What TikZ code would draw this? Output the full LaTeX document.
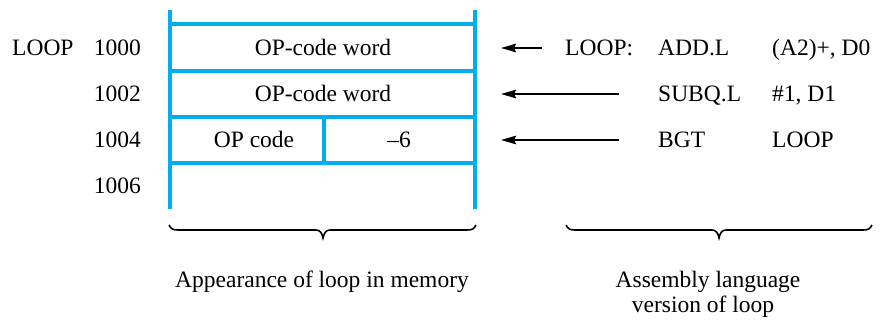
\documentclass[tikz,border=0pt]{standalone}
\usepackage{fontspec}
\setmainfont{Liberation Serif}
\usetikzlibrary{arrows.meta}
\definecolor{memblue}{RGB}{0,174,239}
\begin{document}
\begin{tikzpicture}[x=1pt,y=-1pt,
  txt/.style={inner sep=0pt,font=\fontsize{23.5}{25}\selectfont},
  memline/.style={draw=memblue,line width=3.6pt},
  ptr/.style={draw=black,line width=1.8pt,-{Stealth[length=15pt,width=8.5pt,inset=2pt]}},
  bracepath/.style={draw=black,line width=1.6pt,line join=miter}]
\useasboundingbox (0,0) rectangle (886,323);
% memory frame
\coordinate (tl) at (170,10);
\coordinate (bl) at (170,209);
\coordinate (tr) at (475,10);
\coordinate (br) at (475,209);
\draw[memline] (tl) -- (bl);
\draw[memline] (tr) -- (br);
\foreach \y/\n in {24/h0,71/h1,117/h2,163/h3}{
  \coordinate (\n l) at (170,\y);
  \coordinate (\n r) at (475,\y);
  \draw[memline,line cap=butt] (\n l) -- (\n r);
}
\coordinate (dtop) at (324,117);
\coordinate (dbot) at (324,163);
\draw[memline] (dtop) -- (dbot);
% memory contents
\node[txt,anchor=base] (w1) at (323,56) {OP-code word};
\node[txt,anchor=base] (w2) at (323,102) {OP-code word};
\node[txt,anchor=base] (w3a) at (254,148) {OP code};
\node[txt,anchor=base] (w3b) at (399,148) {–6};
% addresses
\node[txt,anchor=base west] (lbl) at (12,56) {LOOP};
\node[txt,anchor=base east] (a0) at (141,56) {1000};
\node[txt,anchor=base east] (a2) at (141,102) {1002};
\node[txt,anchor=base east] (a4) at (141,148) {1004};
\node[txt,anchor=base east] (a6) at (141,194) {1006};
% assembly
\node[txt,anchor=base west] (l1) at (565,56) {LOOP:};
\node[txt,anchor=base west] (op1) at (658,56) {ADD.L};
\node[txt,anchor=base west] (ar1) at (772,56) {(A2)+, D0};
\node[txt,anchor=base west] (op2) at (658,102) {SUBQ.L};
\node[txt,anchor=base west] (ar2) at (772,102) {\#1, D1};
\node[txt,anchor=base west] (op3) at (658,148) {BGT};
\node[txt,anchor=base west] (ar3) at (772,148) {LOOP};
% arrows
\coordinate (t1) at (542,48);
\coordinate (p1) at (501,48);
\coordinate (t2) at (619,94);
\coordinate (p2) at (501,94);
\coordinate (t3) at (619,140);
\coordinate (p3) at (501,140);
\draw[ptr] (t1) -- (p1);
\draw[ptr] (t2) -- (p2);
\draw[ptr] (t3) -- (p3);
% braces
\coordinate (b1s) at (169,225);
\coordinate (b1m) at (323,238);
\coordinate (b1e) at (476,225);
\draw[bracepath] (b1s) .. controls (171,229) and (173,230) .. (178,230)
  -- (316,230) .. controls (320,230) and (322,233) .. (b1m)
  .. controls (324,233) and (326,230) .. (330,230)
  -- (467,230) .. controls (472,230) and (474,229) .. (b1e);
\coordinate (b2s) at (566,225);
\coordinate (b2m) at (719,238);
\coordinate (b2e) at (872,225);
\draw[bracepath] (b2s) .. controls (568,229) and (570,230) .. (575,230)
  -- (712,230) .. controls (716,230) and (718,233) .. (b2m)
  .. controls (720,233) and (722,230) .. (726,230)
  -- (863,230) .. controls (868,230) and (870,229) .. (b2e);
% captions
\node[txt,anchor=base] (cap1) at (322,287) {Appearance of loop in memory};
\node[txt,anchor=base] (cap2a) at (708,287) {Assembly language};
\node[txt,anchor=base] (cap2b) at (703,312) {version of loop};
\end{tikzpicture}
\end{document}
